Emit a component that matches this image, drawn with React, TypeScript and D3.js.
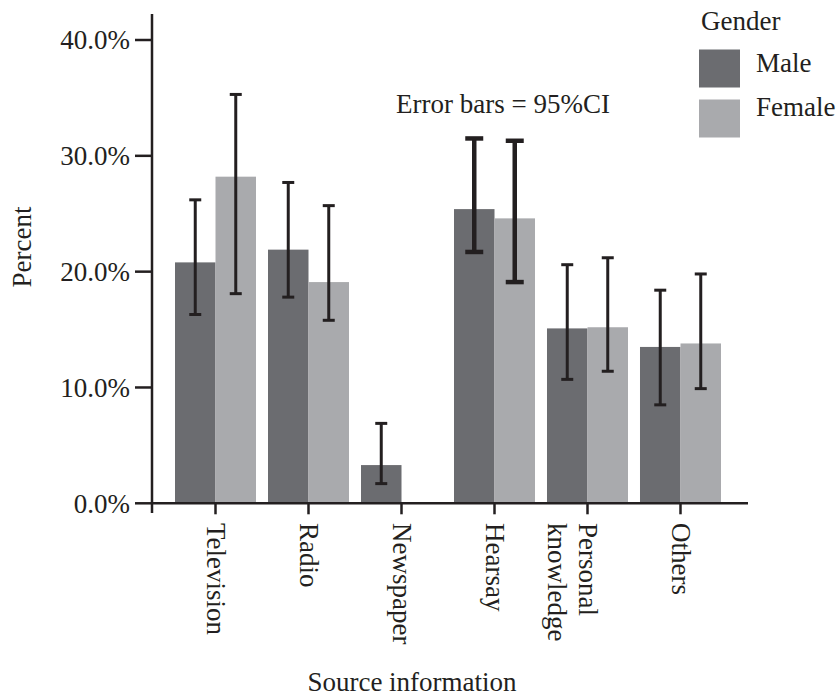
import React from "react";
import * as d3 from "d3";

const categories = ["Television", "Radio", "Newspaper", "Hearsay", "Personal\nknowledge", "Others"];
const genders = ["Male", "Female"];
const maleValues = [20.8, 21.9, 3.3, 25.4, 15.1, 13.5];
const maleLower = [16.3, 17.8, 1.7, 21.7, 10.7, 8.5];
const maleUpper = [26.2, 27.7, 6.9, 31.5, 20.6, 18.4];
const femaleValues: (number | null)[] = [28.2, 19.1, null, 24.6, 15.2, 13.8];
const femaleLower: (number | null)[] = [18.1, 15.8, null, 19.1, 11.4, 9.9];
const femaleUpper: (number | null)[] = [35.3, 25.7, null, 31.3, 21.2, 19.8];
const yTicks = [0, 10, 20, 30, 40];

const W = 839;
const H = 699;
const FONT = "'Liberation Serif', 'Times New Roman', serif";
const FS = 27;
const INK = "#231f20";
const colors: Record<string, string> = { Male: "#6b6c70", Female: "#a9aaad" };

export default function App() {
  const x = d3.scaleBand<string>().domain(categories).range([175, 721]).paddingInner(0.129).paddingOuter(0);
  const xs = d3.scaleBand<string>().domain(genders).range([0, x.bandwidth()]).padding(0);
  const y = d3.scaleLinear().domain([0, 40]).range([503.3, 40]);

  const rows = categories.flatMap((c, i) => [
    { cat: c, i, g: "Male", v: maleValues[i], lo: maleLower[i], hi: maleUpper[i] },
    { cat: c, i, g: "Female", v: femaleValues[i], lo: femaleLower[i], hi: femaleUpper[i] },
  ]).filter((r) => r.v !== null);

  const axisX0 = 152;
  const axisX1 = 748;
  const y0 = y(0);

  return (
    <svg width={W} height={H} style={{ display: "block", position: "absolute", left: 0, top: 0 }} fontFamily={FONT}>
      <rect width={W} height={H} fill="#fff" />
      {rows.map((r, k) => (
        <rect
          key={"b" + k}
          x={(x(r.cat) as number) + (xs(r.g) as number)}
          y={y(r.v as number)}
          width={xs.bandwidth()}
          height={y0 - y(r.v as number)}
          fill={colors[r.g]}
        />
      ))}
      {rows.map((r, k) => {
        const cx = (x(r.cat) as number) + (xs(r.g) as number) + xs.bandwidth() / 2;
        const thick = r.cat === "Hearsay";
        const cap = thick ? 9 : 6;
        const sw = thick ? 4.5 : 3;
        return (
          <g key={"e" + k} stroke={INK} strokeWidth={sw}>
            <line x1={cx} x2={cx} y1={y(r.lo as number)} y2={y(r.hi as number)} />
            <line x1={cx - cap} x2={cx + cap} y1={y(r.lo as number)} y2={y(r.lo as number)} />
            <line x1={cx - cap} x2={cx + cap} y1={y(r.hi as number)} y2={y(r.hi as number)} />
          </g>
        );
      })}
      {/* axes */}
      <line x1={axisX0} x2={axisX0} y1={14} y2={513} stroke={INK} strokeWidth={2.5} />
      <line x1={axisX0} x2={axisX1} y1={y0} y2={y0} stroke={INK} strokeWidth={2.5} />
      {yTicks.map((t) => (
        <g key={"yt" + t}>
          <line x1={axisX0 - 17} x2={axisX0} y1={y(t)} y2={y(t)} stroke={INK} strokeWidth={2.5} />
          <text x={130} y={y(t)} dy="0.35em" textAnchor="end" fontSize={FS} fill={INK}>
            {d3.format(".1f")(t) + "%"}
          </text>
        </g>
      ))}
      {categories.map((c) => {
        const cx = (x(c) as number) + x.bandwidth() / 2;
        const lines = c.split("\n");
        return (
          <g key={"xt" + c}>
            <line x1={cx} x2={cx} y1={y0} y2={y0 + 11} stroke={INK} strokeWidth={2.5} />
            <g transform={`translate(${cx},523) rotate(90)`}>
              {lines.map((l, j) => (
                <text key={j} x={0} y={8.8 + j * 31} fontSize={FS} fill={INK}>
                  {l}
                </text>
              ))}
            </g>
          </g>
        );
      })}
      <text transform="translate(31,247) rotate(-90)" textAnchor="middle" fontSize={FS} fill={INK}>
        Percent
      </text>
      <text x={412} y={691} textAnchor="middle" fontSize={FS} fill={INK}>
        Source information
      </text>
      <text x={396} y={113} fontSize={FS} fill={INK}>
        Error bars = 95%CI
      </text>
      {/* legend */}
      <text x={701} y={30} fontSize={FS} fill={INK}>Gender</text>
      {genders.map((g, i) => (
        <g key={"lg" + g}>
          <rect x={699} y={49.5 + i * 50} width={41} height={38} fill={colors[g]} />
          <text x={756} y={72 + i * 43.5} fontSize={FS} fill={INK}>{g}</text>
        </g>
      ))}
    </svg>
  );
}
